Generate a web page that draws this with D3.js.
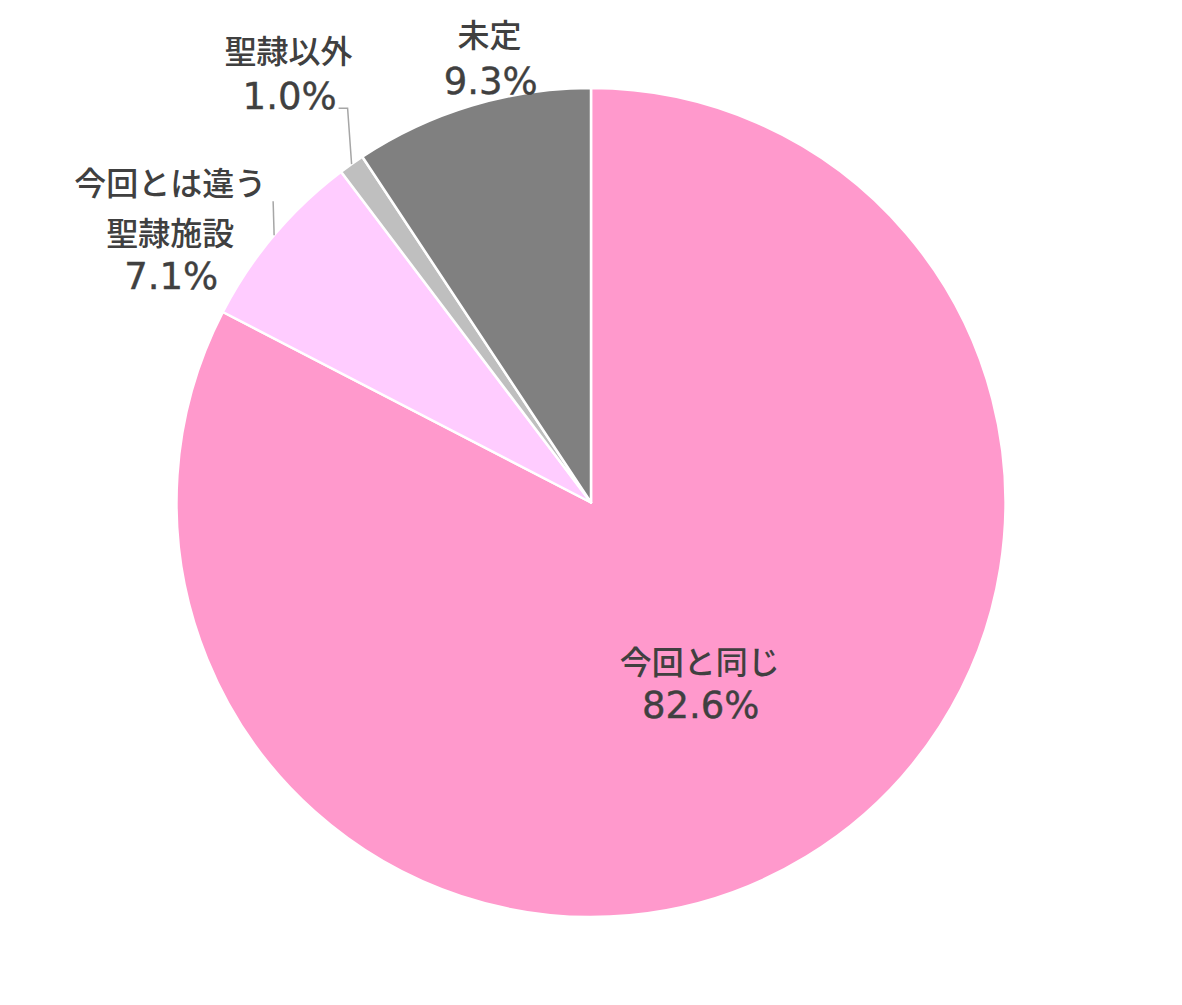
<!DOCTYPE html>
<html>
<head>
<meta charset="utf-8">
<script src="https://cdn.jsdelivr.net/npm/d3@7"></script>
<style>
  html, body { margin: 0; padding: 0; background: #ffffff; }
  svg { display: block; }
</style>
</head>
<body>
<svg id="chart" width="1182" height="1005"></svg>
<script>
// ---- data ----
const categories = ["今回と同じ", "今回とは違う聖隷施設", "聖隷以外", "未定"];
const values = [82.6, 7.1, 1.0, 9.3];
const percentLabels = ["82.6%", "7.1%", "1.0%", "9.3%"];
const nameLines = [["今回と同じ"], ["今回とは違う", "聖隷施設"], ["聖隷以外"], ["未定"]];
const colors = ["#FF99CC", "#FFCCFF", "#BFBFBF", "#808080"];

// ---- layout ----
const W = 1182, H = 1005;
const cx = 591, cy = 502.5, R = 414.5;
const textColor = "#404040";
const cjkFont = "'Noto Sans CJK JP', 'Noto Sans', sans-serif";
const numFont = "'DejaVu Sans', sans-serif";

const svg = d3.select("#chart");
const g = svg.append("g").attr("transform", `translate(${cx},${cy})`);

const pie = d3.pie().sort(null).value(d => d)(values);
const arc = d3.arc().innerRadius(0).outerRadius(R);
const edgeArc = d3.arc().innerRadius(R).outerRadius(R);

g.selectAll("path.slice")
  .data(pie)
  .join("path")
  .attr("class", "slice")
  .attr("d", arc)
  .attr("fill", (d, i) => colors[i])
  .attr("stroke", "#ffffff")
  .attr("stroke-width", 2.5)
  .attr("stroke-linejoin", "round");

// label placement (relative to slice anchor points)
const labelCfg = [
  { mode: "in",  dx: 1,    nameDy: [-6],       pctDy: 38 },
  { mode: "out", dx: -104, nameDy: [-40, 10],  pctDy: 54, leader: [[0, 0], [-1, -34]] },
  { mode: "out", dx: -63,  nameDy: [-101],     pctDy: -55, leader: [[0, 0], [-4, -56], [-13, -56]] },
  { mode: "out", dx: 18,   nameDy: [-59],      pctDy: -12 }
];

pie.forEach((d, i) => {
  const cfg = labelCfg[i];
  const p = cfg.mode === "in" ? arc.centroid(d) : edgeArc.centroid(d);
  const x = p[0] + cfg.dx;
  if (cfg.leader) {
    g.append("path")
      .attr("d", d3.line()(cfg.leader.map(q => [p[0] + q[0], p[1] + q[1]])))
      .attr("fill", "none")
      .attr("stroke", "#A6A6A6")
      .attr("stroke-width", 1.5);
  }
  nameLines[i].forEach((line, j) => {
    g.append("text")
      .attr("x", x)
      .attr("y", p[1] + cfg.nameDy[j])
      .attr("text-anchor", "middle")
      .attr("font-family", cjkFont)
      .attr("font-size", 32)
      .attr("font-weight", 500)
      .attr("fill", textColor)
      .text(line);
  });
  g.append("text")
    .attr("x", x + 1)
    .attr("y", p[1] + cfg.pctDy)
    .attr("text-anchor", "middle")
    .attr("font-family", numFont)
    .attr("font-size", 37)
    .attr("fill", textColor)
    .attr("stroke", textColor)
    .attr("stroke-width", 0.4)
    .text(percentLabels[i]);
});
</script>
</body>
</html>
